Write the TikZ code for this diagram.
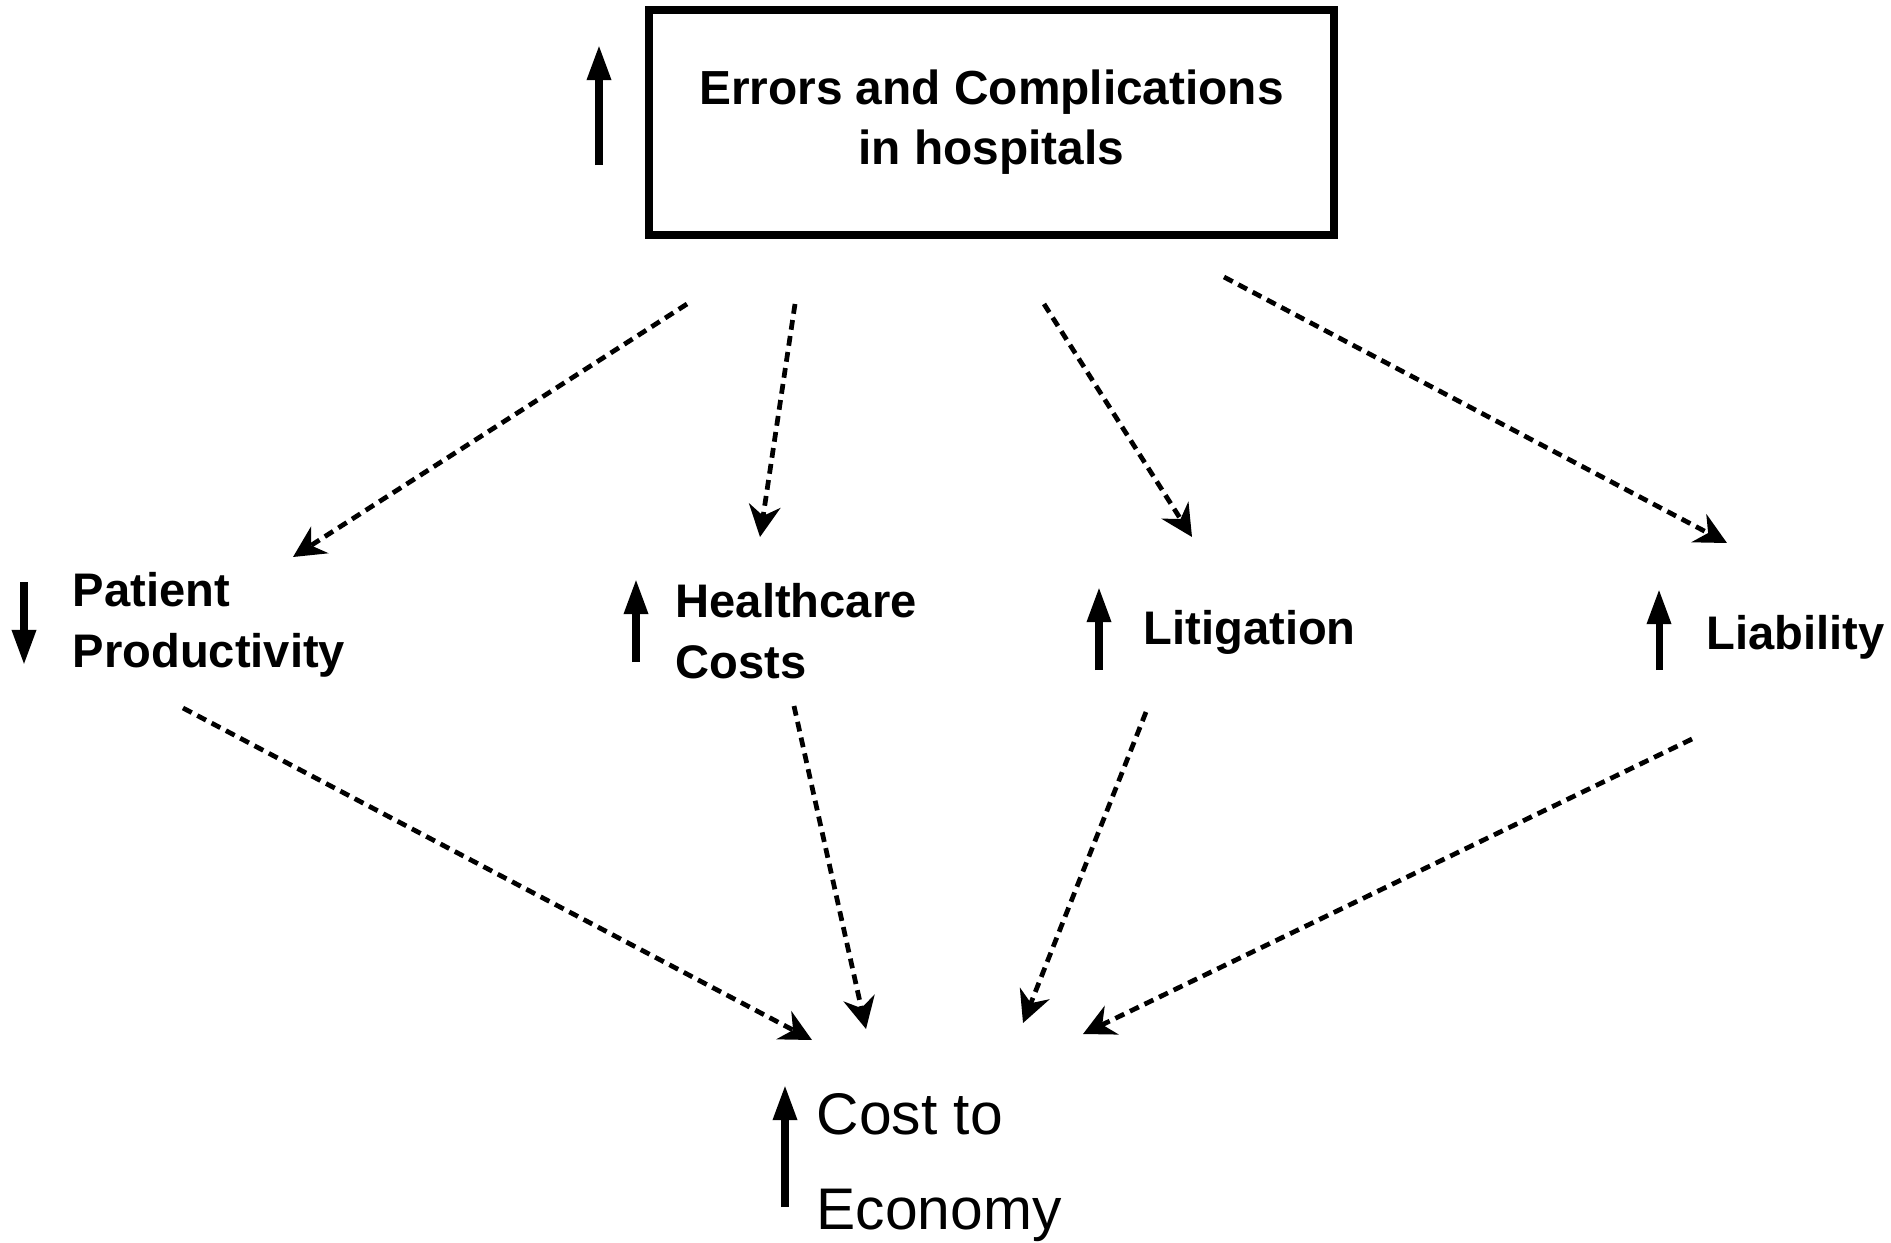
\documentclass[tikz,border=0pt]{standalone}
\usepackage{fontspec}
\setmainfont{Liberation Sans}
\usetikzlibrary{arrows.meta}
\begin{document}
\begin{tikzpicture}[x=0.01cm,y=-0.01cm,
  flow/.style={dash pattern=on 2.8pt off 1.8pt, line width=1.35pt, -{Stealth[length=9pt,width=9pt]}},
  trend/.style={line width=2pt, -{Triangle[length=10pt,width=6.5pt]}},
  lbl/.style={font=\fontsize{13.4}{17.5}\selectfont\bfseries, align=left, anchor=west, inner sep=0pt},
  topbox/.style={draw, line width=2.2pt, minimum width=6.85cm, minimum height=2.25cm, align=center,
    font=\fontsize{13.6}{17.1}\selectfont\bfseries},
  botlbl/.style={font=\fontsize{16.7}{27}\selectfont, align=left, anchor=west, inner sep=0pt}
  ]
\useasboundingbox[fill=white] (0,0) rectangle (1891,1242);

% nodes
\node[topbox] (err) at (991.5,122.5) {Errors and Complications\\in hospitals};
\node[lbl] (pp) at (72,625) {Patient\\Productivity};
\node[lbl] (hc) at (675,631) {Healthcare\\Costs};
\node[lbl] (lit) at (1143,632) {Litigation};
\node[lbl] (lia) at (1706,637) {Liability};
\node[botlbl] (cost) at (816,1168) {Cost to\\Economy};

% trend arrows
\coordinate (e0) at (599,165); \coordinate (e1) at (599,45);
\coordinate (p0) at (24,582);  \coordinate (p1) at (24,665);
\coordinate (h0) at (636,662); \coordinate (h1) at (636,579);
\coordinate (l0) at (1099,670); \coordinate (l1) at (1099,587);
\coordinate (b0) at (1659,670); \coordinate (b1) at (1659,589);
\coordinate (c0) at (785,1207); \coordinate (c1) at (785,1085);
\draw[trend] (e0) -- (e1);
\draw[trend] (p0) -- (p1);
\draw[trend] (h0) -- (h1);
\draw[trend] (l0) -- (l1);
\draw[trend] (b0) -- (b1);
\draw[trend] (c0) -- (c1);

% connector ends
\coordinate (s1) at (687,304);  \coordinate (t1) at (293,557);
\coordinate (s2) at (795,304);  \coordinate (t2) at (760,537);
\coordinate (s3) at (1044,304); \coordinate (t3) at (1192,537);
\coordinate (s4) at (1224,277); \coordinate (t4) at (1727,543);
\coordinate (s5) at (183,708);  \coordinate (t5) at (812,1040);
\coordinate (s6) at (794,706);  \coordinate (t6) at (866,1029);
\coordinate (s7) at (1146,712); \coordinate (t7) at (1023,1023);
\coordinate (s8) at (1692,739); \coordinate (t8) at (1083,1034);

\draw[flow] (s1) -- (t1);
\draw[flow] (s2) -- (t2);
\draw[flow] (s3) -- (t3);
\draw[flow] (s4) -- (t4);
\draw[flow] (s5) -- (t5);
\draw[flow] (s6) -- (t6);
\draw[flow] (s7) -- (t7);
\draw[flow] (s8) -- (t8);
\end{tikzpicture}
\end{document}
